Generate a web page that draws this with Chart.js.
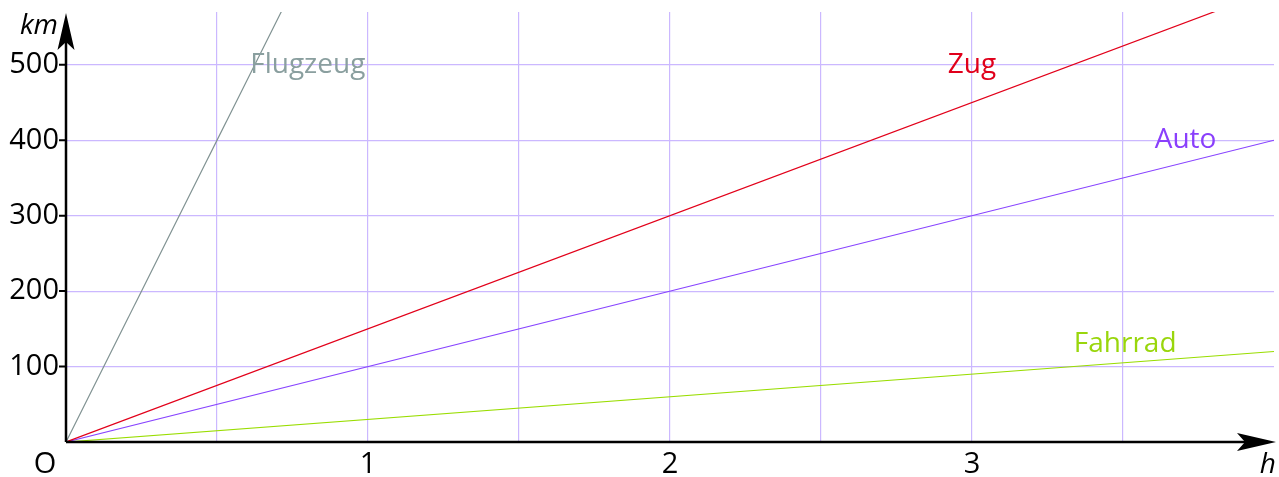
<!DOCTYPE html>
<html>
<head>
<meta charset="utf-8">
<script src="https://cdn.jsdelivr.net/npm/chart.js@4"></script>
<style>
  html, body { margin: 0; padding: 0; background: #fff; }
  #wrap { width: 1279px; height: 477px; position: relative; }
</style>
</head>
<body>
<div id="wrap"><canvas id="chart"></canvas></div>
<script>
// Zeit in Stunden (Start und Ende jeder Geraden)
const hours = [0, 4];
const flugzeug = [0, 3200];
const zug = [0, 600];
const auto = [0, 400];
const fahrrad = [0, 120];

const yTicks = [100, 200, 300, 400, 500];
const xTicks = [1, 2, 3];

// Beschriftungen der Geraden: [Text, x (h), y (km), Farbe]
const labels = [
    ['Flugzeug', 0.61, 500, '#8a9f9f'],
    ['Zug', 2.92, 500, '#e0001b'],
    ['Auto', 3.605, 400, '#8a3ffc'],
    ['Fahrrad', 3.337, 130, '#99d60c']
];

const FONT = '"Open Sans", sans-serif';
const GRID = '#cbb8ff';

function pts(ys) {
    return hours.map((h, i) => ({ x: h, y: ys[i] }));
}

// Achsen, Pfeile, Beschriftungen
const axesPlugin = {
    id: 'axes',
    afterDatasetsDraw(chart) {
        const ctx = chart.ctx;
        const xs = chart.scales.x, ys = chart.scales.y;
        const x0 = xs.getPixelForValue(0), y0 = ys.getPixelForValue(0);
        ctx.save();
        ctx.strokeStyle = '#000';
        ctx.fillStyle = '#000';
        ctx.lineWidth = 2.5;
        // Achsenlinien
        ctx.beginPath();
        ctx.moveTo(x0, y0);
        ctx.lineTo(x0, 22);
        ctx.moveTo(x0, y0);
        ctx.lineTo(1268, y0);
        ctx.stroke();
        // Pfeilspitzen
        ctx.beginPath();
        ctx.moveTo(x0, 13);
        ctx.lineTo(x0 + 8.5, 50);
        ctx.lineTo(x0, 42);
        ctx.lineTo(x0 - 8.5, 50);
        ctx.closePath();
        ctx.fill();
        ctx.beginPath();
        ctx.moveTo(1276, y0);
        ctx.lineTo(1237, y0 - 9);
        ctx.lineTo(1245, y0);
        ctx.lineTo(1237, y0 + 9);
        ctx.closePath();
        ctx.fill();
        // Striche an der y-Achse
        ctx.lineWidth = 2;
        ctx.beginPath();
        yTicks.forEach(v => {
            const py = ys.getPixelForValue(v);
            ctx.moveTo(x0 - 7, py);
            ctx.lineTo(x0, py);
        });
        ctx.stroke();
        // Zahlen
        ctx.font = '29px ' + FONT;
        ctx.textAlign = 'right';
        ctx.textBaseline = 'middle';
        yTicks.forEach(v => ctx.fillText(String(v), x0 - 7, ys.getPixelForValue(v)));
        ctx.textAlign = 'center';
        xTicks.forEach(v => ctx.fillText(String(v), xs.getPixelForValue(v), 465));
        ctx.fillText('O', 45, 465);
        ctx.font = 'italic 28px ' + FONT;
        ctx.textAlign = 'right';
        ctx.fillText('km', 58, 26);
        ctx.fillText('h', 1276, 465);
        // Namen der Geraden
        ctx.font = '28px ' + FONT;
        ctx.textAlign = 'left';
        labels.forEach(([t, h, km, c]) => {
            ctx.fillStyle = c;
            ctx.fillText(t, xs.getPixelForValue(h), ys.getPixelForValue(km));
        });
        ctx.restore();
    }
};

new Chart(document.getElementById('chart'), {
    type: 'scatter',
    data: {
        datasets: [
            { label: 'Flugzeug', data: pts(flugzeug), borderColor: '#7f9191' },
            { label: 'Zug', data: pts(zug), borderColor: '#e2001a' },
            { label: 'Auto', data: pts(auto), borderColor: '#8844ff' },
            { label: 'Fahrrad', data: pts(fahrrad), borderColor: '#99dd00' }
        ].map(d => ({ ...d, showLine: true, borderWidth: 1.2, pointRadius: 0, fill: false }))
    },
    options: {
        responsive: true,
        maintainAspectRatio: false,
        animation: false,
        layout: { padding: { left: 66, right: 5, top: 12, bottom: 35 } },
        plugins: { legend: { display: false }, tooltip: { enabled: false } },
        scales: {
            x: {
                type: 'linear', min: 0, max: 4,
                ticks: { display: false, stepSize: 0.5 },
                grid: {
                    color: c => (c.tick && c.tick.value > 0 && c.tick.value < 4) ? GRID : 'transparent',
                    lineWidth: 1.2, drawTicks: false
                },
                border: { display: false }
            },
            y: {
                type: 'linear', min: 0, max: 570,
                ticks: { display: false, stepSize: 100 },
                grid: {
                    color: c => (c.tick && yTicks.includes(c.tick.value)) ? GRID : 'transparent',
                    lineWidth: 1.2, drawTicks: false
                },
                border: { display: false }
            }
        }
    },
    plugins: [axesPlugin]
});
</script>
</body>
</html>
